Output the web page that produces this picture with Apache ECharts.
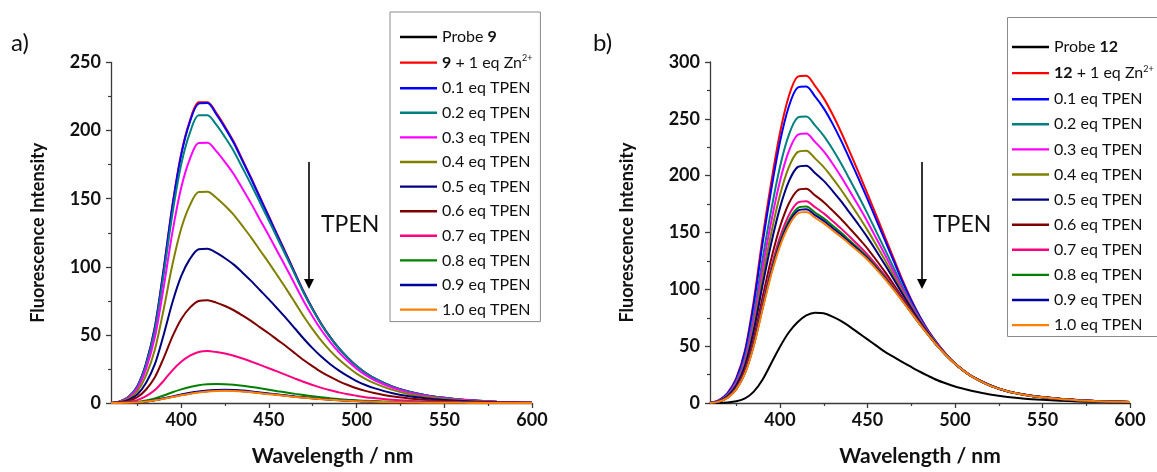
<!DOCTYPE html>
<html><head><meta charset="utf-8">
<script src="https://cdn.jsdelivr.net/npm/echarts@6/dist/echarts.min.js"></script>
<style>html,body{margin:0;padding:0;background:#fff}#c{width:1157px;height:472px}</style>
</head><body><div id="c"></div>
<script>
// wavelength grid (nm)
const wavelengths = [360,365,370,375,380,385,390,395,400,405,410,415,420,425,430,435,440,445,450,455,460,465,470,475,480,485,490,495,500,505,510,520,530,540,550,560,570,580,590,600];

// Panel a) probe 9
const probe9 = [0,0.05,0.2,0.5,1.1,2.0,3.2,4.5,5.8,7.0,8.0,8.7,9.1,9.3,9.1,8.7,8.1,7.4,6.7,6.0,5.3,4.6,4.0,3.4,2.9,2.45,2.05,1.7,1.4,1.15,0.95,0.6,0.4,0.25,0.15,0.1,0.07,0.04,0.02,0];
const zn9 = [0,1.1,4.5,12.3,29.0,55.8,98.1,145.0,182.9,207.4,220.8,220.8,213.0,202.9,191.8,178.4,165.0,151.0,137.1,123.1,109.3,95.2,81.4,69.1,58.0,48.4,40.1,33.2,27.2,22.3,18.3,12.3,8.3,5.6,3.8,2.5,1.6,0.9,0.4,0.2];
const a01 = [0,1.1,4.4,12.2,28.9,55.5,97.7,144.3,182.0,206.5,219.8,220.2,212.0,202.0,190.9,177.6,164.3,150.3,136.5,122.5,108.8,94.8,81.0,68.8,57.7,48.2,40.0,33.1,27.1,22.2,18.2,12.2,8.2,5.6,3.8,2.4,1.6,0.9,0.4,0.2];
const a02 = [0,1.1,4.3,11.7,27.8,53.4,93.9,138.7,175.0,198.5,211.3,211.3,204.3,195.1,184.9,172.5,160.1,147.0,133.9,120.6,107.4,93.9,80.4,68.4,57.5,48.1,40.0,33.1,27.1,22.2,18.2,12.2,8.2,5.5,3.8,2.4,1.6,0.9,0.4,0.2];
const a03 = [0,1.0,3.9,10.6,25.1,48.2,84.8,125.3,158.0,179.3,190.9,191.0,184.9,176.9,168.0,157.2,146.2,134.4,122.9,110.9,99.0,86.7,74.4,63.4,53.4,44.7,37.2,30.8,25.2,20.6,16.9,11.4,7.6,5.2,3.5,2.3,1.4,0.8,0.4,0.2];
const a04 = [0,0.8,3.1,8.6,20.3,39.1,68.7,101.5,128.0,145.3,154.9,155.1,150.7,144.8,138.1,129.8,121.3,112.0,102.9,93.3,83.6,73.5,63.3,54.0,45.6,38.3,31.9,26.4,21.6,17.8,14.6,9.8,6.5,4.4,3.0,1.9,1.2,0.7,0.35,0.2];
const a05 = [0,0.6,2.3,6.3,14.9,28.5,50.0,73.8,93.1,105.8,112.9,113.3,110.4,106.3,101.6,95.7,89.5,82.8,76.1,69.1,62.0,54.5,47.0,40.1,33.9,28.5,23.8,19.7,16.1,13.2,10.9,7.3,4.9,3.3,2.2,1.4,0.9,0.5,0.3,0.1];
const a06 = [0,0.4,1.5,4.2,9.9,18.9,33.0,48.7,61.5,70.0,74.9,75.4,73.7,71.2,68.1,64.2,60.1,55.5,51.0,46.2,41.5,36.4,31.4,26.9,22.7,19.1,15.9,13.2,10.8,8.9,7.3,4.9,3.3,2.2,1.5,1.0,0.6,0.35,0.2,0.1];
const a07 = [0,0.2,0.8,2.1,5.0,9.5,16.3,24.0,30.3,34.8,37.5,38.1,37.4,36.3,34.7,32.7,30.4,28.0,25.5,23.0,20.5,17.9,15.4,13.2,11.1,9.3,7.8,6.4,5.3,4.3,3.6,2.4,1.6,1.1,0.7,0.5,0.3,0.2,0.1,0];
const a08 = [0,0.1,0.3,0.8,1.8,3.3,5.5,7.9,10.0,11.8,13.1,13.7,13.9,13.8,13.4,12.7,11.8,10.8,9.8,8.7,7.7,6.7,5.8,4.9,4.2,3.5,2.9,2.4,2.0,1.6,1.4,0.9,0.6,0.4,0.2,0.15,0.1,0.06,0.03,0];
const a09 = [0,0.05,0.21,0.53,1.17,2.13,3.42,4.83,6.21,7.47,8.5,9.2,9.58,9.76,9.53,9.1,8.47,7.74,7.01,6.28,5.55,4.81,4.18,3.56,3.03,2.56,2.14,1.77,1.46,1.2,0.99,0.63,0.42,0.26,0.16,0.1,0.07,0.04,0.02,0];
const a10 = [0,0.05,0.19,0.49,1.07,1.94,3.1,4.37,5.63,6.79,7.76,8.44,8.83,9.02,8.83,8.44,7.86,7.18,6.5,5.82,5.14,4.46,3.88,3.3,2.81,2.38,1.99,1.65,1.36,1.12,0.92,0.58,0.39,0.24,0.15,0.1,0.07,0.04,0.02,0];

// Panel b) probe 12
const probe12 = [0,0.1,0.5,1.5,4,10,20.5,35,49.5,62,71,77,79.5,79,76,72,67,61.5,56,50.5,45,40.5,36,31.7,27.5,23.6,20,17.1,14.5,12.4,10.5,7.5,5.3,3.8,2.8,2.0,1.4,1.0,0.7,0.5];
const zn12 = [0,2.3,8.7,21.8,46.4,89.9,145,194.3,237.8,269.7,287,288,279,268,254,238,220.5,202.5,184,165,146,127,108,91,76,63,52.2,42.8,34.8,28.5,23.2,15.7,10.2,7.3,5.2,3.8,2.6,1.7,1.2,0.9];
const b01 = [0,2.2,8.4,21.0,44.8,86.7,140,187.8,229.8,260.6,277.4,278.4,269.7,259.2,245.8,230.6,214,196.9,179.4,161.2,143,124.8,106.5,90.1,75.4,62.7,52,42.7,34.8,28.5,23.2,15.7,10.2,7.3,5.2,3.8,2.6,1.7,1.2,0.9];
const b02 = [0,2.0,7.4,18.9,40.3,77.9,126.1,169.9,207.9,235.6,250.9,252,244.2,235,223.4,210.4,196.2,181.7,166.6,150.8,134.9,118.8,102.5,87.5,73.9,61.9,51.5,42.5,34.7,28.4,23.1,15.6,10.2,7.2,5.1,3.7,2.6,1.7,1.2,0.9];
const b03 = [0,1.8,6.9,17.6,37.7,72.9,118.2,159.7,195.4,221.4,235.8,237,229.7,221.3,210.7,198.9,186.1,173,159.4,144.9,130.3,115.3,100.1,86,73,61.4,51.3,42.4,34.7,28.4,23.1,15.5,10.2,7.2,5.1,3.7,2.6,1.7,1.2,0.9];
const b04 = [0,1.7,6.4,16.4,35.2,68,110.4,149.6,182.9,207.2,220.7,222,215.2,207.5,197.9,187.4,176,164.3,152.1,139,125.7,111.9,97.8,84.6,72.2,61,51,42.3,34.6,28.4,23.1,15.5,10.3,7.2,5.1,3.7,2.5,1.7,1.2,0.8];
const b05 = [0,1.6,5.9,15.3,32.9,63.6,103.4,140.6,171.9,194.7,207.5,208.8,202.4,195.4,186.7,177.3,167,156.6,145.7,133.8,121.6,108.9,95.8,83.3,71.4,60.6,50.7,42.1,34.6,28.4,23.1,15.4,10.3,7.2,5.1,3.7,2.5,1.7,1.2,0.8];
const b06 = [0,1.4,5.2,13.7,29.5,56.8,92.7,126.8,155,175.3,187,188.4,182.7,176.7,169.3,161.6,153.3,144.8,135.9,125.8,115.3,104.2,92.6,81.3,70.2,59.9,50.4,42,34.5,28.3,23,15.4,10.3,7.1,5.0,3.6,2.5,1.7,1.2,0.8];
const b07 = [0,1.3,4.8,12.8,27.6,53.2,87,119.5,146,165.1,176.1,177.6,172.3,166.8,160.2,153.4,146,138.6,130.6,121.6,112,101.7,91,80.2,69.6,59.6,50.2,41.9,34.5,28.3,23,15.3,10.3,7.1,5.0,3.6,2.5,1.7,1.2,0.8];
const b08 = [0,1.2,4.7,12.4,26.8,51.6,84.5,116.3,142,160.5,171.3,172.8,167.6,162.4,156.1,149.7,142.7,135.8,128.3,119.7,110.5,100.6,90.2,79.8,69.3,59.4,50.1,41.8,34.5,28.3,23,15.3,10.3,7.1,5.0,3.6,2.5,1.7,1.2,0.8];
const b09 = [0,1.2,4.6,12.2,26.4,50.8,83.3,114.6,140,158.3,168.9,170.4,165.3,160.2,154,147.8,141.1,134.4,127.2,118.7,109.7,100.1,89.9,79.5,69.1,59.4,50,41.8,34.5,28.3,23,15.3,10.3,7.1,5.0,3.6,2.5,1.7,1.2,0.8];
const b10 = [0,1.2,4.5,12,26,50,82,113,138,156,166.5,168,163,158,152,146,139.5,133,126,117.8,109,99.5,89.5,79.3,69,59.3,50,41.8,34.5,28.3,23,15.3,10.3,7.1,5.0,3.6,2.5,1.7,1.2,0.8];

// labels
const labelsA = ['Probe 9','9 + 1 eq Zn2+','0.1 eq TPEN','0.2 eq TPEN','0.3 eq TPEN','0.4 eq TPEN','0.5 eq TPEN','0.6 eq TPEN','0.7 eq TPEN','0.8 eq TPEN','0.9 eq TPEN','1.0 eq TPEN'];
const labelsB = ['Probe 12','12 + 1 eq Zn2+','0.1 eq TPEN','0.2 eq TPEN','0.3 eq TPEN','0.4 eq TPEN','0.5 eq TPEN','0.6 eq TPEN','0.7 eq TPEN','0.8 eq TPEN','0.9 eq TPEN','1.0 eq TPEN'];
const xMajorTicks = [400,450,500,550,600];
const xMinorTicks = [375,425,475,525,575];

const seriesA = [probe9, zn9, a01, a02, a03, a04, a05, a06, a07, a08, a09, a10];
const seriesB = [probe12, zn12, b01, b02, b03, b04, b05, b06, b07, b08, b09, b10];
const colors = ['#000000','#ff0000','#0000ff','#008080','#ff00ff','#808000','#000080','#800000','#ff0080','#008000','#0000a0','#ff8000'];

const FONT = 'Lato';
const AX = '#3a3a3a';
const namesB = labelsB.map(l => 'b:' + l);
const richMap = {
  'Probe 9': 'Probe {b|9}',
  '9 + 1 eq Zn2+': '{b|9} + 1 eq Zn{sup|2+}',
  'Probe 12': 'Probe {b|12}',
  '12 + 1 eq Zn2+': '{b|12} + 1 eq Zn{sup|2+}'
};
function legendText(size) {
  return {
    fontFamily: FONT, fontSize: size, color: '#111', lineHeight: 16,
    rich: {
      b: {fontFamily: FONT, fontSize: size, fontWeight: 'bold', color: '#111', lineHeight: 16},
      sup: {fontFamily: FONT, fontSize: 9, color: '#111', lineHeight: 16, padding: [0, 0, 9, 0]}
    }
  };
}
function fmt(n) { const base = n.replace(/^b:/, ''); return richMap[base] || base; }

function xAxes(grid, nameShift) {
  return [{
    gridIndex: grid, type: 'value', min: 360, max: 600,
    axisLine: {lineStyle: {color: AX, width: 1.3}},
    axisTick: {customValues: xMajorTicks, length: 5, lineStyle: {color: AX, width: 1.3}},
    axisLabel: {customValues: xMajorTicks, fontFamily: FONT, fontWeight: 'bold', fontSize: 18, color: '#111', margin: 8},
    splitLine: {show: false},
    name: 'Wavelength / nm', nameLocation: 'middle', nameGap: 43,
    nameTextStyle: {fontFamily: FONT, fontWeight: 'bold', fontSize: 21, color: '#111', padding: [0, 0, 0, nameShift]}
  }, {
    gridIndex: grid, type: 'value', min: 360, max: 600, position: 'bottom',
    axisLine: {show: false},
    axisTick: {customValues: xMinorTicks, length: 3, lineStyle: {color: AX, width: 1.2}},
    axisLabel: {show: false}, splitLine: {show: false}
  }];
}
function yAxis(grid, max, gap) {
  return {
    gridIndex: grid, type: 'value', min: 0, max: max, interval: 50,
    axisLine: {show: true, lineStyle: {color: AX, width: 1.3}},
    axisTick: {show: true, length: 5, lineStyle: {color: AX, width: 1.3}},
    minorTick: {show: true, splitNumber: 2, length: 3, lineStyle: {color: AX, width: 1.2}},
    axisLabel: {fontFamily: FONT, fontWeight: 'bold', fontSize: 18, color: '#111', margin: 10},
    splitLine: {show: false},
    name: 'Fluorescence Intensity', nameLocation: 'middle', nameGap: gap,
    nameTextStyle: {fontFamily: FONT, fontWeight: 'bold', fontSize: 18, color: '#111'}
  };
}

const series = [];
seriesA.forEach((vals, i) => series.push({
  name: labelsA[i], type: 'line', xAxisIndex: 0, yAxisIndex: 0,
  data: wavelengths.map((w, k) => [w, vals[k]]),
  smooth: 0.3, symbol: 'none', lineStyle: {width: 2, color: colors[i]}, itemStyle: {color: colors[i]}, z: 2 + i
}));
seriesB.forEach((vals, i) => series.push({
  name: namesB[i], type: 'line', xAxisIndex: 2, yAxisIndex: 1,
  data: wavelengths.map((w, k) => [w, vals[k]]),
  smooth: 0.3, symbol: 'none', lineStyle: {width: 2, color: colors[i]}, itemStyle: {color: colors[i]}, z: 2 + i
}));

function arrow(x, y1, y2) {
  return [
    {type: 'line', shape: {x1: x, y1: y1, x2: x, y2: y2 - 8}, style: {stroke: '#000', lineWidth: 1.6}},
    {type: 'polygon', shape: {points: [[x - 5, y2 - 10], [x + 5, y2 - 10], [x, y2]]}, style: {fill: '#000'}}
  ];
}

const chart = echarts.init(document.getElementById('c'), null, {renderer: 'canvas'});
chart.setOption({
  animation: false,
  backgroundColor: '#fff',
  grid: [
    {left: 111, right: 625, top: 62.5, bottom: 67},
    {left: 710, right: 27, top: 62, bottom: 68}
  ],
  xAxis: [...xAxes(0, 22), ...xAxes(1, 0)],
  yAxis: [yAxis(0, 250, 64), yAxis(1, 300, 74)],
  legend: [{
    data: labelsA, orient: 'vertical', left: 390, top: 12,
    padding: [17, 8, 4, 10], itemGap: 8.6, itemWidth: 37, itemHeight: 2.4, icon: 'rect',
    borderColor: '#8a8a8a', borderWidth: 1, backgroundColor: '#fff',
    textStyle: legendText(16), formatter: fmt, selectedMode: false
  }, {
    data: namesB, orient: 'vertical', left: 1007, top: 17,
    padding: [22, 4, 4, 5], itemGap: 9.1, itemWidth: 37, itemHeight: 2.4, icon: 'rect',
    borderWidth: 0, backgroundColor: 'transparent',
    textStyle: legendText(16), formatter: fmt, selectedMode: false
  }],
  graphic: [
    {type: 'rect', z: 0, shape: {x: 1007.5, y: 17.5, width: 200, height: 319}, style: {fill: '#fff', stroke: '#8a8a8a', lineWidth: 1}},
    {type: 'text', left: 11, top: 31, style: {text: 'a)', font: '24px Lato', fill: '#111'}},
    {type: 'text', left: 593, top: 31, style: {text: 'b)', font: '24px Lato', fill: '#111'}},
    {type: 'text', left: 321, top: 213, style: {text: 'TPEN', font: '23px Lato', fill: '#111'}},
    {type: 'text', left: 933, top: 213, style: {text: 'TPEN', font: '23px Lato', fill: '#111'}},
    ...arrow(309, 162, 289),
    ...arrow(922, 162, 289)
  ],
  series: series
});
</script></body></html>
